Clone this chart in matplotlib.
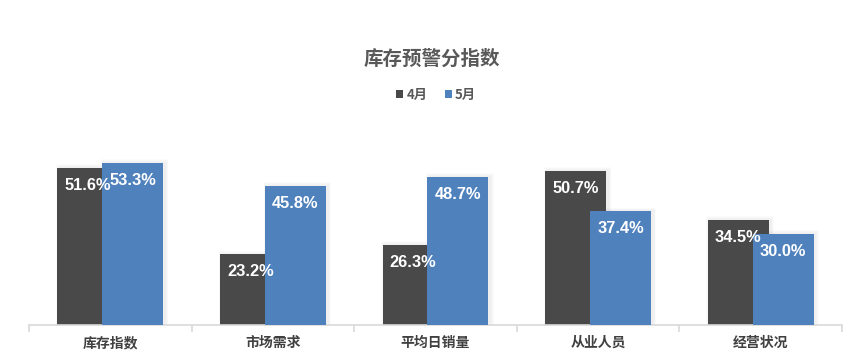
import numpy as np
import matplotlib
matplotlib.use('Agg')
import matplotlib.pyplot as plt

## data
categories = ['库存指数', '市场需求', '平均日销量', '从业人员', '经营状况']
april = [51.6, 23.2, 26.3, 50.7, 34.5]
may = [53.3, 45.8, 48.7, 37.4, 30.0]
series_names = ['4月', '5月']

col_apr = '#494949'
col_may = '#4f81bd'
grey_txt = '#595959'

plt.rcParams['font.family'] = ['Noto Sans CJK SC', 'DejaVu Sans']

fig = plt.figure(figsize=(8.65, 3.59), dpi=100)
ax = fig.add_axes([29 / 865, 34 / 359, 813 / 865, 182.4 / 359])

x = np.arange(len(categories)) + 0.5
width = 0.375
offset = 0.138


def draw_shadow(xpos, vals):
    # faint soft shadow, excel style
    for k in range(4):
        grow = 0.01 * (k + 1)
        ax.bar(xpos + 0.012, np.array(vals) + 0.3 * (k + 1), width=width + grow,
               color='#000000', alpha=0.014, linewidth=0, zorder=1)


draw_shadow(x - offset, april)
draw_shadow(x + offset, may)

b1 = ax.bar(x - offset, april, width=width, color=col_apr, linewidth=0, zorder=2, label=series_names[0])
b2 = ax.bar(x + offset, may, width=width, color=col_may, linewidth=0, zorder=3, label=series_names[1])

for xs, vals, z in [(x - offset, april, 4), (x + offset, may, 5)]:
    for xi, v in zip(xs, vals):
        ax.annotate(f'{v:.1f}%', xy=(xi, v), xytext=(0, -12.5), textcoords='offset points',
                    ha='center', va='center', color='white', fontsize=11.8,
                    fontweight='bold', family=['Liberation Sans', 'DejaVu Sans'], zorder=z)

ax.set_xlim(0, len(categories))
ax.set_ylim(0, 60)
ax.set_yticks([])
for s in ['left', 'right', 'top']:
    ax.spines[s].set_visible(False)
ax.spines['bottom'].set_color('#d9d9d9')
ax.spines['bottom'].set_linewidth(1.2)

ax.set_xticks(np.arange(len(categories) + 1))
ax.set_xticklabels([])
ax.tick_params(axis='x', length=5, color='#d9d9d9', width=1.2, direction='out')
ax.set_xticks(x, minor=True)
ax.set_xticklabels(categories, minor=True, fontsize=10, fontweight='bold', color='#404040')
ax.tick_params(axis='x', which='minor', length=0, pad=8)

fig.text(432 / 865, 1 - 59 / 359, '库存预警分指数', ha='center', va='center',
         fontsize=14, fontweight='bold', color=grey_txt)

leg = fig.legend(handles=[b1, b2], labels=series_names, loc='center',
                 bbox_to_anchor=(436 / 865, 1 - 95 / 359), ncol=2, frameon=False,
                 handlelength=0.55, handleheight=0.55, handletextpad=0.25, columnspacing=1.3,
                 prop={'size': 9.5, 'weight': 'bold'})
for t in leg.get_texts():
    t.set_color(grey_txt)

fig.savefig('out.png', dpi=100, facecolor='white')
